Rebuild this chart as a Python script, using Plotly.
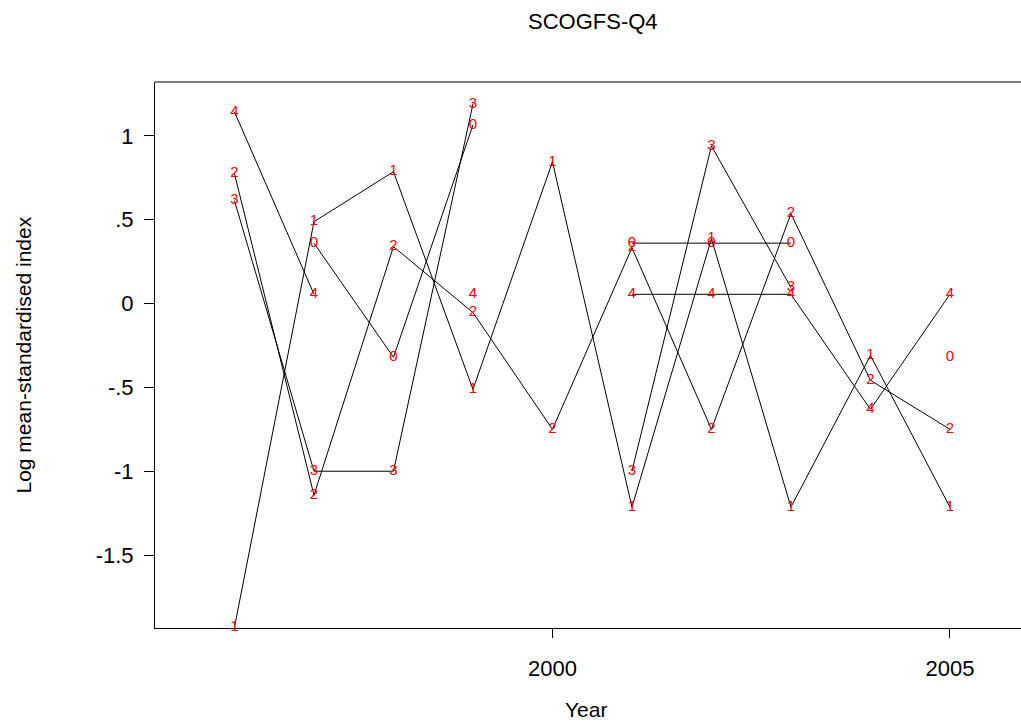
import plotly.graph_objects as go

years = [1996, 1997, 1998, 1999, 2000, 2001, 2002, 2003, 2004, 2005]
age0 = [None, 0.36, -0.32, 1.065, None, 0.36, 0.36, 0.36, None, -0.32]
age1 = [-1.93, 0.488, 0.786, -0.512, 0.845, -1.214, 0.387, -1.214, -0.31, -1.214]
age2 = [0.774, -1.143, 0.339, -0.054, -0.75, 0.333, -0.75, 0.536, -0.458, -0.75]
age3 = [0.613, -1.0, -1.0, 1.19, None, -1.0, 0.94, 0.095, None, None]
age4 = [1.143, 0.055, None, 0.055, None, 0.055, 0.055, 0.055, -0.631, 0.055]
series = [("0", age0), ("1", age1), ("2", age2), ("3", age3), ("4", age4)]

ytick_vals = [-1.5, -1, -0.5, 0, 0.5, 1]
ytick_text = ["-1.5", "-1", "-.5", "0", ".5", "1"]
xtick_vals = [2000, 2005]
xtick_text = ["2000", "2005"]

FONT = "Liberation Sans, Arial, Helvetica, sans-serif"

fig = go.Figure()
for lab, vals in series:
    fig.add_trace(go.Scatter(
        x=years, y=vals, mode="lines+text",
        text=[lab if v is not None else "" for v in vals],
        textposition="middle center",
        textfont=dict(family=FONT, size=15, color="#ff0000"),
        line=dict(color="black", width=1),
        cliponaxis=False, showlegend=False, hoverinfo="skip",
    ))

fig.update_layout(
    width=1021, height=726,
    margin=dict(l=155, r=0, t=82, b=98),
    paper_bgcolor="white", plot_bgcolor="white",
    font=dict(family=FONT, size=21, color="black"),
    xaxis=dict(range=[1995.0, 2005.894], tickvals=xtick_vals, ticktext=xtick_text,
               showgrid=False, zeroline=False, showline=True, linecolor="black", linewidth=1,
               ticks="outside", ticklen=9, tickcolor="black", tickwidth=1,
               ticklabelstandoff=12, tickfont=dict(size=22)),
    yaxis=dict(range=[-1.935, 1.321], tickvals=ytick_vals, ticktext=ytick_text,
               showgrid=False, zeroline=False, showline=True, linecolor="black", linewidth=1,
               ticks="outside", ticklen=10, tickcolor="black", tickwidth=1,
               ticklabelstandoff=6, tickfont=dict(size=22)),
    shapes=[dict(type="line", xref="paper", yref="paper", x0=0, x1=1, y0=1, y1=1,
                 line=dict(color="black", width=1))],
    annotations=[
        dict(text="SCOGFS-Q4", xref="paper", yref="paper", x=0.5058, y=1.1099,
             xanchor="center", yanchor="middle", showarrow=False, font=dict(size=22)),
        dict(text="Year", xref="paper", yref="paper", x=0.4977, y=-0.1484,
             xanchor="center", yanchor="middle", showarrow=False, font=dict(size=21)),
        dict(text="Log mean-standardised index", xref="paper", yref="paper", x=-0.153, y=0.5,
             xanchor="center", yanchor="middle", textangle=-90, showarrow=False, font=dict(size=21)),
    ],
)

fig.write_html("out.html")
